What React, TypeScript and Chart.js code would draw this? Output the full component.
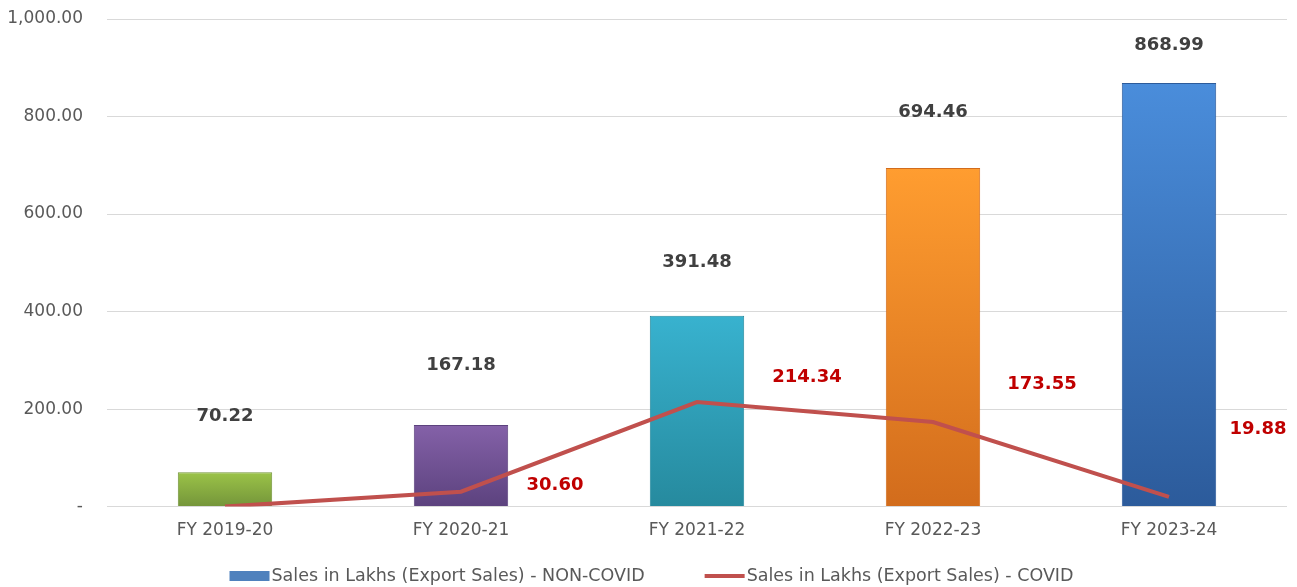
import React, { useEffect, useRef } from "react";
import { Chart, registerables } from "chart.js";
Chart.register(...registerables);

const categories = ["FY 2019-20", "FY 2020-21", "FY 2021-22", "FY 2022-23", "FY 2023-24"];
const nonCovidSales = [70.22, 167.18, 391.48, 694.46, 868.99];
const covidSales = [0, 30.6, 214.34, 173.55, 19.88];
const yTickValues = [0, 200, 400, 600, 800, 1000];
const seriesNames = ["Sales in Lakhs (Export Sales) - NON-COVID", "Sales in Lakhs (Export Sales) - COVID"];

// styling (not data)
const barTopColors = ["#9BC348", "#8461A8", "#38B2CF", "#FF9D30", "#4A8DDB"];
const barBottomColors = ["#74953A", "#5C427E", "#268A9E", "#D26C1C", "#2C5B9B"];
const barLabelLift = [56, 60, 53, 56, 38];
const covidLabelDx = [0, 94, 110, 109, 89];
const covidLabelDy = [0, -6, -25, -38, -68];

const FONT = "'DejaVu Sans', sans-serif";
const LABEL_FONT = "bold 18px 'DejaVu Sans', sans-serif";
const TEXT_COLOR = "#595959";

export default function App() {
  const ref = useRef<HTMLCanvasElement | null>(null);
  useEffect(() => {
    const canvas = ref.current!;

    const labelPlugin = {
      id: "valueLabels",
      afterDatasetsDraw(chart: any) {
        const ctx = chart.ctx;
        ctx.save();
        ctx.font = LABEL_FONT;
        ctx.textAlign = "center";
        ctx.textBaseline = "middle";
        const barMeta = chart.getDatasetMeta(0);
        barMeta.data.forEach((el: any, i: number) => {
          ctx.fillStyle = "#404040";
          ctx.fillText(nonCovidSales[i].toFixed(2), el.x, el.y - barLabelLift[i]);
        });
        const lineMeta = chart.getDatasetMeta(1);
        lineMeta.data.forEach((el: any, i: number) => {
          if (!covidSales[i]) return;
          ctx.fillStyle = "#C00000";
          ctx.fillText(covidSales[i].toFixed(2), el.x + covidLabelDx[i], el.y + covidLabelDy[i]);
        });
        ctx.restore();
      },
    };

    const legendPlugin = {
      id: "bottomLegend",
      afterDraw(chart: any) {
        const ctx = chart.ctx;
        ctx.save();
        ctx.font = "17.5px " + FONT;
        ctx.textBaseline = "middle";
        ctx.textAlign = "left";
        const w0 = ctx.measureText(seriesNames[0]).width;
        const w1 = ctx.measureText(seriesNames[1]).width;
        const sw = 40, gapText = 2, gapItem = 60;
        const total = sw + gapText + w0 + gapItem + sw + gapText + w1;
        let x = (chart.width - total) / 2 + 3;
        const y = 576;
        ctx.fillStyle = "#4F81BD";
        ctx.fillRect(x, y - 5, sw, 10);
        x += sw + gapText;
        ctx.fillStyle = TEXT_COLOR;
        ctx.fillText(seriesNames[0], x, y);
        x += w0 + gapItem;
        ctx.strokeStyle = "#C0504D";
        ctx.lineWidth = 4;
        ctx.beginPath();
        ctx.moveTo(x, y);
        ctx.lineTo(x + sw, y);
        ctx.stroke();
        x += sw + gapText;
        ctx.fillText(seriesNames[1], x, y);
        ctx.restore();
      },
    };

    const chart = new Chart(canvas, {
      data: {
        labels: categories,
        datasets: [
          {
            type: "bar",
            label: seriesNames[0],
            data: nonCovidSales,
            order: 2,
            backgroundColor: (c: any) => {
              const ch = c.chart;
              const i = c.dataIndex ?? 0;
              if (!ch.chartArea || !ch.scales.y) return barTopColors[i];
              const top = ch.scales.y.getPixelForValue(nonCovidSales[i]);
              const bottom = ch.scales.y.getPixelForValue(0);
              const g = ch.ctx.createLinearGradient(0, top, 0, bottom);
              g.addColorStop(0, barTopColors[i]);
              g.addColorStop(1, barBottomColors[i]);
              return g;
            },
            borderColor: (c: any) => barBottomColors[c.dataIndex ?? 0],
            borderWidth: 1,
            categoryPercentage: 0.8,
            barPercentage: 0.5,
          } as any,
          {
            type: "line",
            label: seriesNames[1],
            data: covidSales,
            order: 1,
            borderColor: "#C0504D",
            backgroundColor: "#C0504D",
            borderWidth: 4,
            pointRadius: 0,
            tension: 0,
          } as any,
        ],
      },
      options: {
        responsive: false,
        animation: false,
        devicePixelRatio: 1,
        layout: { padding: { top: 19, right: 10, left: 0, bottom: 32 } },
        plugins: {
          tooltip: { enabled: false },
          legend: { display: false },
        },
        scales: {
          x: {
            grid: { display: false, drawTicks: false },
            border: { display: false },
            ticks: { color: TEXT_COLOR, font: { family: FONT, size: 17 }, padding: 14 },
          },
          y: {
            min: 0,
            max: 1000,
            afterBuildTicks: (s: any) => {
              s.ticks = yTickValues.map((v) => ({ value: v }));
            },
            afterFit: (s: any) => {
              s.width = 107;
              s.paddingTop = 0;
              s.paddingBottom = 0;
            },
            grid: { color: "#D9D9D9", lineWidth: 1, drawTicks: false },
            border: { display: false },
            ticks: {
              color: TEXT_COLOR,
              font: { family: FONT, size: 17 },
              padding: 24,
              callback: (v: any) =>
                Number(v) === 0 ? "-" : Number(v).toLocaleString("en-US", { minimumFractionDigits: 2, maximumFractionDigits: 2 }),
            },
          },
        },
      },
      plugins: [labelPlugin, legendPlugin],
    });
    return () => chart.destroy();
  }, []);

  return (
    <div style={{ position: "fixed", left: 0, top: 0, width: 1297, height: 587, background: "#fff" }}>
      <canvas ref={ref} width={1297} height={587} style={{ display: "block" }} />
    </div>
  );
}
